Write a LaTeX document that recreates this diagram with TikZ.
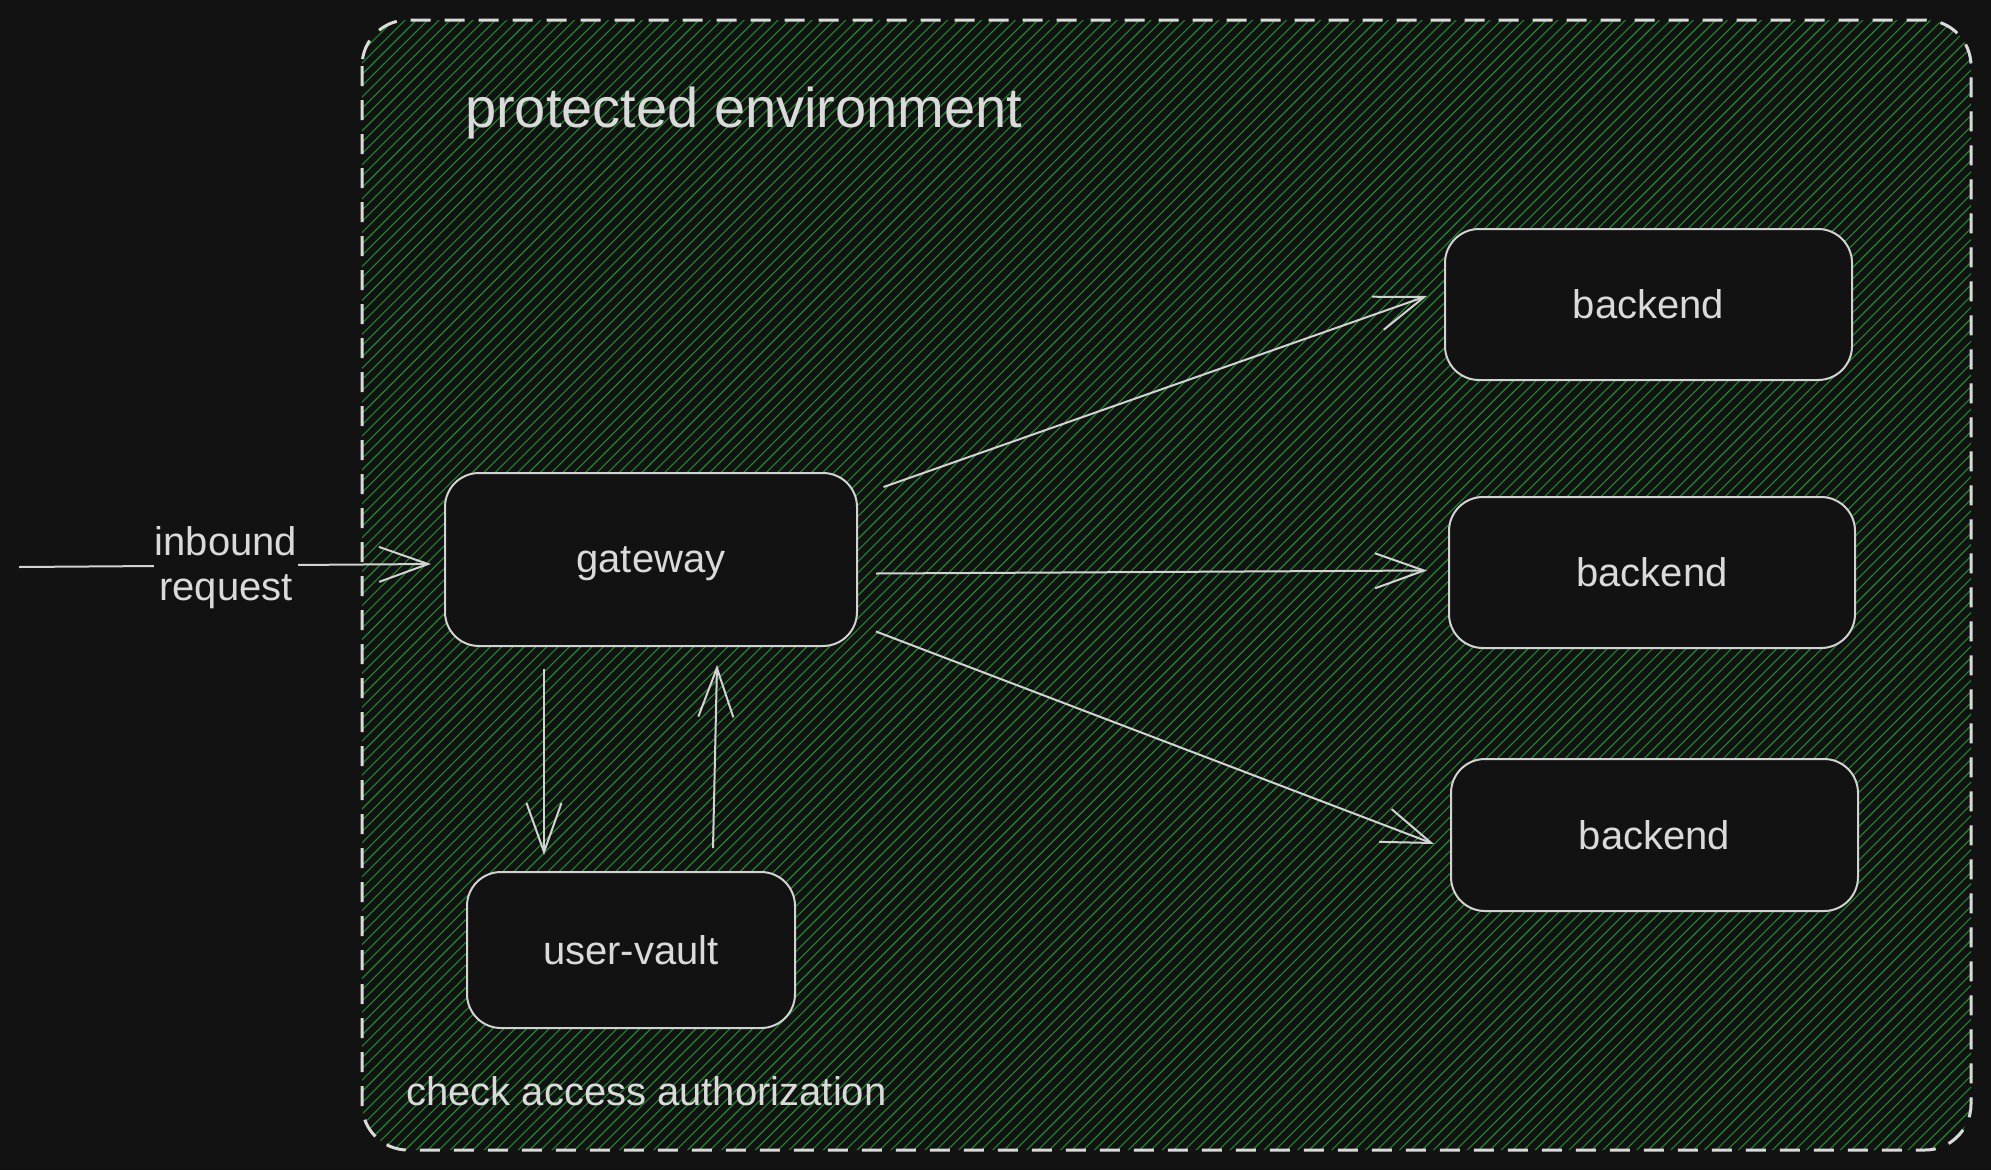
\documentclass[tikz,border=0pt]{standalone}
\usepackage{fontspec}
\setmainfont{Liberation Sans}
\usetikzlibrary{arrows.meta,calc}
\definecolor{bg}{HTML}{121212}
\definecolor{fg}{HTML}{DADADA}
\definecolor{edge}{HTML}{D2D2D2}
\definecolor{hatch}{HTML}{1E8A2E}
\tikzset{
  box/.style={draw=edge, line width=2pt, fill=bg, rounded corners=34pt, text=fg,
    font=\fontsize{40}{45}\selectfont, inner sep=0pt},
  arr/.style={draw=edge, line width=2pt, -{Straight Barb[length=49pt,width=35pt,line width=2pt]}},
  lbl/.style={text=fg, font=\fontsize{40}{45}\selectfont, inner sep=0pt},
  hatchline/.style={draw=hatch, line width=1.1pt},
  frame/.style={draw=fg, line width=3pt, dash pattern=on 20pt off 14pt, rounded corners=46pt}
}
\begin{document}
\begin{tikzpicture}[x=1pt, y=-1pt]
\fill[bg] (0,0) rectangle (1991,1170);
\useasboundingbox (0,0) rectangle (1991,1170);
% hatched protected area
\begin{scope}
  \clip[rounded corners=46pt] (362,20) rectangle (1971,1150);
  \foreach \c in {380,391.3,...,3130} {
    \draw[hatchline] (\c-1170,1170) -- (\c,0);
  }
\end{scope}
\draw[frame] (362,20) rectangle (1971,1150);
\node[lbl, font=\fontsize{56}{62}\selectfont, anchor=base west] (title) at (465,127) {protected environment};
\node[lbl, anchor=base west] (check) at (406,1105) {check access authorization};
% nodes
\node[box, minimum width=412pt, minimum height=173pt, text depth=0pt] (gateway) at (651,559.5) {gateway};
\node[box, minimum width=407pt, minimum height=151pt] (b1) at (1648.5,304.5) {backend};
\node[box, minimum width=406pt, minimum height=151pt] (b2) at (1652,572.5) {backend};
\node[box, minimum width=407pt, minimum height=152pt] (b3) at (1654.5,835) {backend};
\node[box, minimum width=328pt, minimum height=156pt] (vault) at (631,950) {user-vault};
% inbound
\coordinate (src) at (19,567);
\draw[arr] (src) -- ([shift={(-13,4.5)}]gateway.west);
\node[lbl, fill=bg, align=center, inner xsep=1pt] (inbound) at (226,568) {inbound\\request};
% connectors
\draw[arr] ([shift={(25.5,-72.5)}]gateway.east) -- ([shift={(-17,-8.5)}]b1.west);
\draw[arr] ([shift={(18,14)}]gateway.east) -- ([shift={(-21,-2)}]b2.west);
\draw[arr] ([shift={(18,72)}]gateway.east) -- ([shift={(-16,9)}]b3.west);
\draw[arr] ([shift={(-107,22)}]gateway.south) -- ([shift={(-87,-16)}]vault.north);
\draw[arr] ([shift={(82,-23)}]vault.north) -- ([shift={(66,18)}]gateway.south);
\end{tikzpicture}
\end{document}
